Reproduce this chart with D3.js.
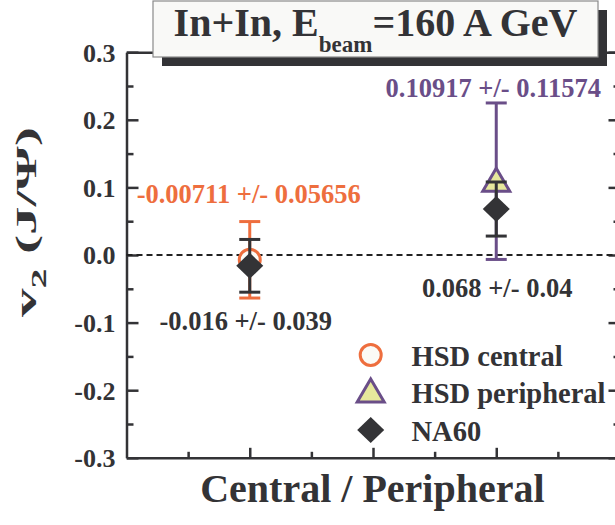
<!DOCTYPE html>
<html>
<head>
<meta charset="utf-8">
<script src="https://cdn.jsdelivr.net/npm/d3@7.9.0/dist/d3.min.js"></script>
<style>
  body { margin: 0; background: #fff; }
  svg { display: block; }
  text { font-family: "Liberation Serif", "Times New Roman", serif; font-weight: bold; fill: #333336; }
</style>
</head>
<body>
<svg id="chart" width="615" height="525"></svg>
<script>
// data
const categories = ["Central", "Peripheral"];
const catPos = [1, 2];
const hsdValues = [-0.00711, 0.10917];
const hsdErrors = [0.05656, 0.11574];
const na60Values = [-0.016, 0.068];
const na60Errors = [0.039, 0.04];
const hsdLabels = ["-0.00711 +/- 0.05656", "0.10917 +/- 0.11574"];
const na60Labels = ["-0.016 +/- 0.039", "0.068 +/- 0.04"];
const yMajor = [-0.3, -0.2, -0.1, 0.0, 0.1, 0.2, 0.3];
const yMinor = [-0.25, -0.15, -0.05, 0.05, 0.15, 0.25];
const xMajor = [1, 1.5, 2];
const xMinor = [0.75, 1.25, 1.75, 2.25];
const legendNames = ["HSD central", "HSD peripheral", "NA60"];

const ORANGE = "#ee6e3e", PURPLE = "#6a4e88", DARK = "#333336", PALE = "#e6e89c";

const svg = d3.select("#chart");
const x = d3.scaleLinear().domain([0.5, 2.5]).range([126.5, 619.5]);
const y = d3.scaleLinear().domain([-0.3, 0.3]).range([457.8, 52.2]);

function styleAxis(g) {
  g.selectAll("path, line").attr("stroke", DARK).attr("stroke-width", 2.5);
  g.selectAll("text").attr("fill", DARK).style("font-size", "26px");
}

// left
svg.append("g").attr("transform", `translate(${x(0.5)},0)`)
  .call(d3.axisLeft(y).tickValues(yMajor).tickSize(-12).tickSizeOuter(0).tickPadding(11).tickFormat(d3.format(".1f")))
  .call(styleAxis)
  .call(g => g.selectAll("text").attr("dy", "0.34em").text(d => d3.format(".1f")(d).replace("−", "-")));
svg.append("g").attr("transform", `translate(${x(0.5)},0)`)
  .call(d3.axisLeft(y).tickValues(yMinor).tickSize(-7).tickFormat(""))
  .call(styleAxis).call(g => g.select(".domain").remove());
// right
svg.append("g").attr("transform", `translate(${x(2.5)},0)`)
  .call(d3.axisRight(y).tickValues(yMajor).tickSize(-11).tickSizeOuter(0).tickFormat(""))
  .call(styleAxis);
svg.append("g").attr("transform", `translate(${x(2.5)},0)`)
  .call(d3.axisRight(y).tickValues(yMinor).tickSize(-6).tickFormat(""))
  .call(styleAxis).call(g => g.select(".domain").remove());
// bottom
svg.append("g").attr("transform", `translate(0,${y(-0.3)})`)
  .call(d3.axisBottom(x).tickValues(xMajor).tickSize(-10).tickSizeOuter(0).tickFormat(""))
  .call(styleAxis);
svg.append("g").attr("transform", `translate(0,${y(-0.3)})`)
  .call(d3.axisBottom(x).tickValues(xMinor).tickSize(-6).tickFormat(""))
  .call(styleAxis).call(g => g.select(".domain").remove());
// top
svg.append("g").attr("transform", `translate(0,${y(0.3)})`)
  .call(d3.axisTop(x).tickValues(xMajor.concat(xMinor)).tickSize(-8).tickSizeOuter(0).tickFormat(""))
  .call(styleAxis);

// zero line
svg.append("line")
  .attr("x1", x(0.5)).attr("x2", x(2.5)).attr("y1", y(0)).attr("y2", y(0))
  .attr("stroke", "#222").attr("stroke-width", 2).attr("stroke-dasharray", "6,4");

function errorBar(cx, v, e, color) {
  const g = svg.append("g").attr("stroke", color).attr("stroke-width", 3);
  g.append("line").attr("x1", cx).attr("x2", cx).attr("y1", y(v - e)).attr("y2", y(v + e));
  [v - e, v + e].forEach(t => g.append("line")
    .attr("x1", cx - 10.5).attr("x2", cx + 10.5).attr("y1", y(t)).attr("y2", y(t)));
}
function circleMark(cx, cy) {
  svg.append("circle").attr("cx", cx).attr("cy", cy).attr("r", 10.5)
    .attr("fill", "#fbfaf6").attr("stroke", ORANGE).attr("stroke-width", 3);
}
function triangleMark(cx, cy) {
  svg.append("path").attr("d", `M${cx},${cy - 13}L${cx + 13.5},${cy + 10}L${cx - 13.5},${cy + 10}Z`)
    .attr("fill", PALE).attr("stroke", PURPLE).attr("stroke-width", 3).attr("stroke-linejoin", "miter");
}
function diamondMark(cx, cy) {
  svg.append("path").attr("d", `M${cx},${cy - 13}L${cx + 13.5},${cy}L${cx},${cy + 13}L${cx - 13.5},${cy}Z`)
    .attr("fill", DARK);
}

// HSD
catPos.forEach((c, i) => {
  const cx = x(c);
  errorBar(cx, hsdValues[i], hsdErrors[i], i === 0 ? ORANGE : PURPLE);
  if (i === 0) circleMark(cx, y(hsdValues[i]));
  else triangleMark(cx, y(hsdValues[i]));
});
// NA60
catPos.forEach((c, i) => {
  const cx = x(c);
  errorBar(cx, na60Values[i], na60Errors[i], DARK);
  diamondMark(cx, y(na60Values[i]));
});

// value labels
const hsdLabelOffset = [[-1, -19], [-3, -6]];
const na60LabelOffset = [[-4, 38], [1, 61]];
hsdLabels.forEach((t, i) => {
  svg.append("text").attr("x", x(catPos[i]) + hsdLabelOffset[i][0])
    .attr("y", y(hsdValues[i] + hsdErrors[i]) + hsdLabelOffset[i][1])
    .attr("text-anchor", "middle").style("font-size", "26.5px")
    .style("fill", i === 0 ? ORANGE : PURPLE).text(t);
});
na60Labels.forEach((t, i) => {
  svg.append("text").attr("x", x(catPos[i]) + na60LabelOffset[i][0])
    .attr("y", y(na60Values[i] - na60Errors[i]) + na60LabelOffset[i][1])
    .attr("text-anchor", "middle").style("font-size", "26.5px").text(t);
});

// legend
const legX = 370.7, legY = [355, 392, 430];
circleMark(legX, legY[0]);
triangleMark(legX, legY[1]);
diamondMark(legX, legY[2]);
legendNames.forEach((n, i) => {
  svg.append("text").attr("x", 411.5).attr("y", legY[i] + 10.5)
    .style("font-size", "28.5px").text(n);
});

// title box
svg.append("rect").attr("x", 162).attr("y", 10).attr("width", 445).attr("height", 56).attr("fill", DARK);
svg.append("rect").attr("x", 153).attr("y", 1).attr("width", 445).attr("height", 56)
  .attr("fill", "#f9f9f7").attr("stroke", "#8a8a8a").attr("stroke-width", 1.2);
const title = svg.append("text").attr("x", 375.5).attr("y", 36).attr("text-anchor", "middle").style("font-size", "40px");
title.append("tspan").text("In+In, E");
title.append("tspan").attr("dy", 16).style("font-size", "23px").text("beam");
title.append("tspan").attr("dy", -16).text("=160 A GeV");

// axis titles
svg.append("text").attr("x", 372.4).attr("y", 502).attr("text-anchor", "middle")
  .style("font-size", "40px").text("Central / Peripheral");

const yl = svg.append("g").attr("transform", "translate(36,222) rotate(-90)");
const ylt = yl.append("text").attr("text-anchor", "middle").style("font-size", "30px");
ylt.append("tspan").text("v");
ylt.append("tspan").attr("dy", 10).style("font-size", "21px").text("2");
ylt.append("tspan").attr("dy", -10).text(" (J/\u03A8)");
const len = ylt.node().getComputedTextLength();
ylt.attr("transform", `scale(${190 / len},1)`);
</script>
</body>
</html>
